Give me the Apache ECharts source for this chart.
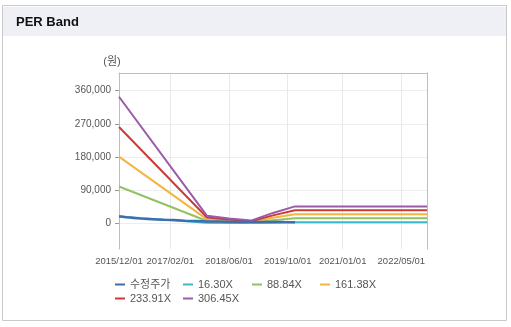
<!DOCTYPE html>
<html>
<head>
<meta charset="utf-8">
<script src="https://cdn.jsdelivr.net/npm/echarts@6/dist/echarts.min.js"></script>
<style>
html,body{margin:0;padding:0;background:#fff;}
#chart{width:511px;height:327px;}
</style>
</head>
<body>
<div id="chart"></div>
<script>
// ---- data ----
const tickLabels = ['2015/12/01','2017/02/01','2018/06/01','2019/10/01','2021/01/01','2022/05/01'];
const yTicks = [0, 90000, 180000, 270000, 360000];

const bandDates = ['2015/12/01','2017/12/01','2018/06/01','2018/12/01','2019/06/01','2019/12/01','2022/12/01'];
const per16 = [18300, 1100, 750, 380, 1500, 2450, 2450];
const per89 = [99800, 5900, 3800, 2000, 8000, 13300, 13300];
const per161 = [181000, 10600, 6900, 3700, 14600, 24100, 24100];
const per234 = [261500, 15400, 10000, 5400, 21300, 35000, 35000];
const per306 = [343500, 20100, 13000, 7100, 28000, 45700, 45700];

const priceDates = ['2015/12/01','2016/01/01','2016/02/01','2016/03/01','2016/04/01','2016/06/01','2016/09/01','2016/12/01','2017/03/01','2017/06/01','2017/09/01','2017/12/01','2018/03/01','2018/06/01','2018/09/01','2018/12/01','2019/03/01','2019/06/01','2019/09/01','2019/12/01'];
const priceValues = [19000, 17500, 16000, 15500, 14500, 12500, 11000, 9500, 8500, 7000, 6000, 5000, 4500, 4000, 3500, 3000, 3200, 3500, 3000, 2800];

const seriesNames = ['수정주가','16.30X','88.84X','161.38X','233.91X','306.45X'];
const seriesColors = ['#3d6fae','#3bb9cc','#93c163','#f4b541','#c93c3a','#9a5ba8'];

// monthly categories 2015/12 .. 2022/12
const months = [];
for (let y = 2015, m = 12; y < 2023; ) {
  months.push(y + '/' + String(m).padStart(2, '0') + '/01');
  m++; if (m > 12) { m = 1; y++; }
}

function pairs(dates, vals) { return dates.map((d, i) => [d, vals[i]]); }

const bandValues = [per16, per89, per161, per234, per306];
const FONT = "'Liberation Sans', 'Noto Sans CJK KR', sans-serif";

const series = [];
series.push({
  name: seriesNames[0], type: 'line', data: pairs(priceDates, priceValues),
  symbol: 'none', lineStyle: { width: 2.5, color: seriesColors[0] }, itemStyle: { color: seriesColors[0] }, z: 3
});
bandValues.forEach((vals, i) => {
  series.push({
    name: seriesNames[i + 1], type: 'line', data: pairs(bandDates, vals),
    symbol: 'none', lineStyle: { width: 2, color: seriesColors[i + 1] }, itemStyle: { color: seriesColors[i + 1] }, z: 2
  });
});

const legendPos = [[115, 279], [183, 279], [252, 279], [320, 279], [115, 293], [183, 293]];
const legends = seriesNames.map((n, i) => ({
  data: [n], left: legendPos[i][0], top: legendPos[i][1], padding: 0,
  icon: 'rect', itemWidth: 10, itemHeight: 2, itemGap: 0,
  textStyle: { fontSize: 11, color: '#555', fontFamily: FONT }
}));

const isTickIdx = (idx) => tickLabels.indexOf(months[idx]) >= 0;

const chart = echarts.init(document.getElementById('chart'), null, { renderer: 'canvas' });
chart.setOption({
  animation: false,
  backgroundColor: '#ffffff',
  graphic: [
    { type: 'rect', z: -10, shape: { x: 2.5, y: 5.5, width: 504, height: 315 }, style: { fill: '#fff', stroke: '#c9c9c9', lineWidth: 1 } },
    { type: 'rect', z: -9, shape: { x: 3, y: 7, width: 503, height: 29 }, style: { fill: '#eef0f5' } },
    { type: 'text', z: 10, x: 112, y: 62, style: { text: '(원)', fontSize: 11, fill: '#555', fontFamily: FONT, align: 'center', verticalAlign: 'middle' } }
  ],
  title: {
    text: 'PER Band', left: 16, top: 16, padding: 0,
    textStyle: { fontSize: 13, fontWeight: 'bold', color: '#111', fontFamily: FONT }
  },
  legend: legends,
  grid: { left: 119, right: 84, top: 73, bottom: 78, containLabel: false },
  xAxis: [
    {
      type: 'category', data: months, boundaryGap: false,
      axisLine: { show: false },
      axisTick: { show: false },
      axisLabel: { interval: isTickIdx, fontSize: 9.5, color: '#555', margin: 8, fontFamily: FONT, hideOverlap: false },
      splitLine: { show: true, interval: isTickIdx, lineStyle: { color: '#e9e9e9', width: 1 } }
    },
    {
      type: 'category', data: months, boundaryGap: false, position: 'top',
      axisLine: { show: true, onZero: false, lineStyle: { color: '#bdbdbd' } },
      axisTick: { show: false }, axisLabel: { show: false }, splitLine: { show: false }
    }
  ],
  yAxis: [
    {
      type: 'value', min: -70000, max: 408000,
      axisLine: { show: true, onZero: false, lineStyle: { color: '#bdbdbd' } },
      axisTick: { show: true, length: 4, customValues: yTicks, lineStyle: { color: '#999' } },
      axisLabel: { customValues: yTicks, fontSize: 10, color: '#555', margin: 8, fontFamily: FONT,
        formatter: v => v.toLocaleString('en-US') },
      splitLine: { show: true, lineStyle: { color: '#eeeeee', width: 1 } }
    },
    {
      type: 'value', min: -70000, max: 408000, position: 'right',
      axisLine: { show: true, onZero: false, lineStyle: { color: '#bdbdbd' } },
      axisTick: { show: false }, axisLabel: { show: false }, splitLine: { show: false }
    }
  ],
  series: series
});
</script>
</body>
</html>
